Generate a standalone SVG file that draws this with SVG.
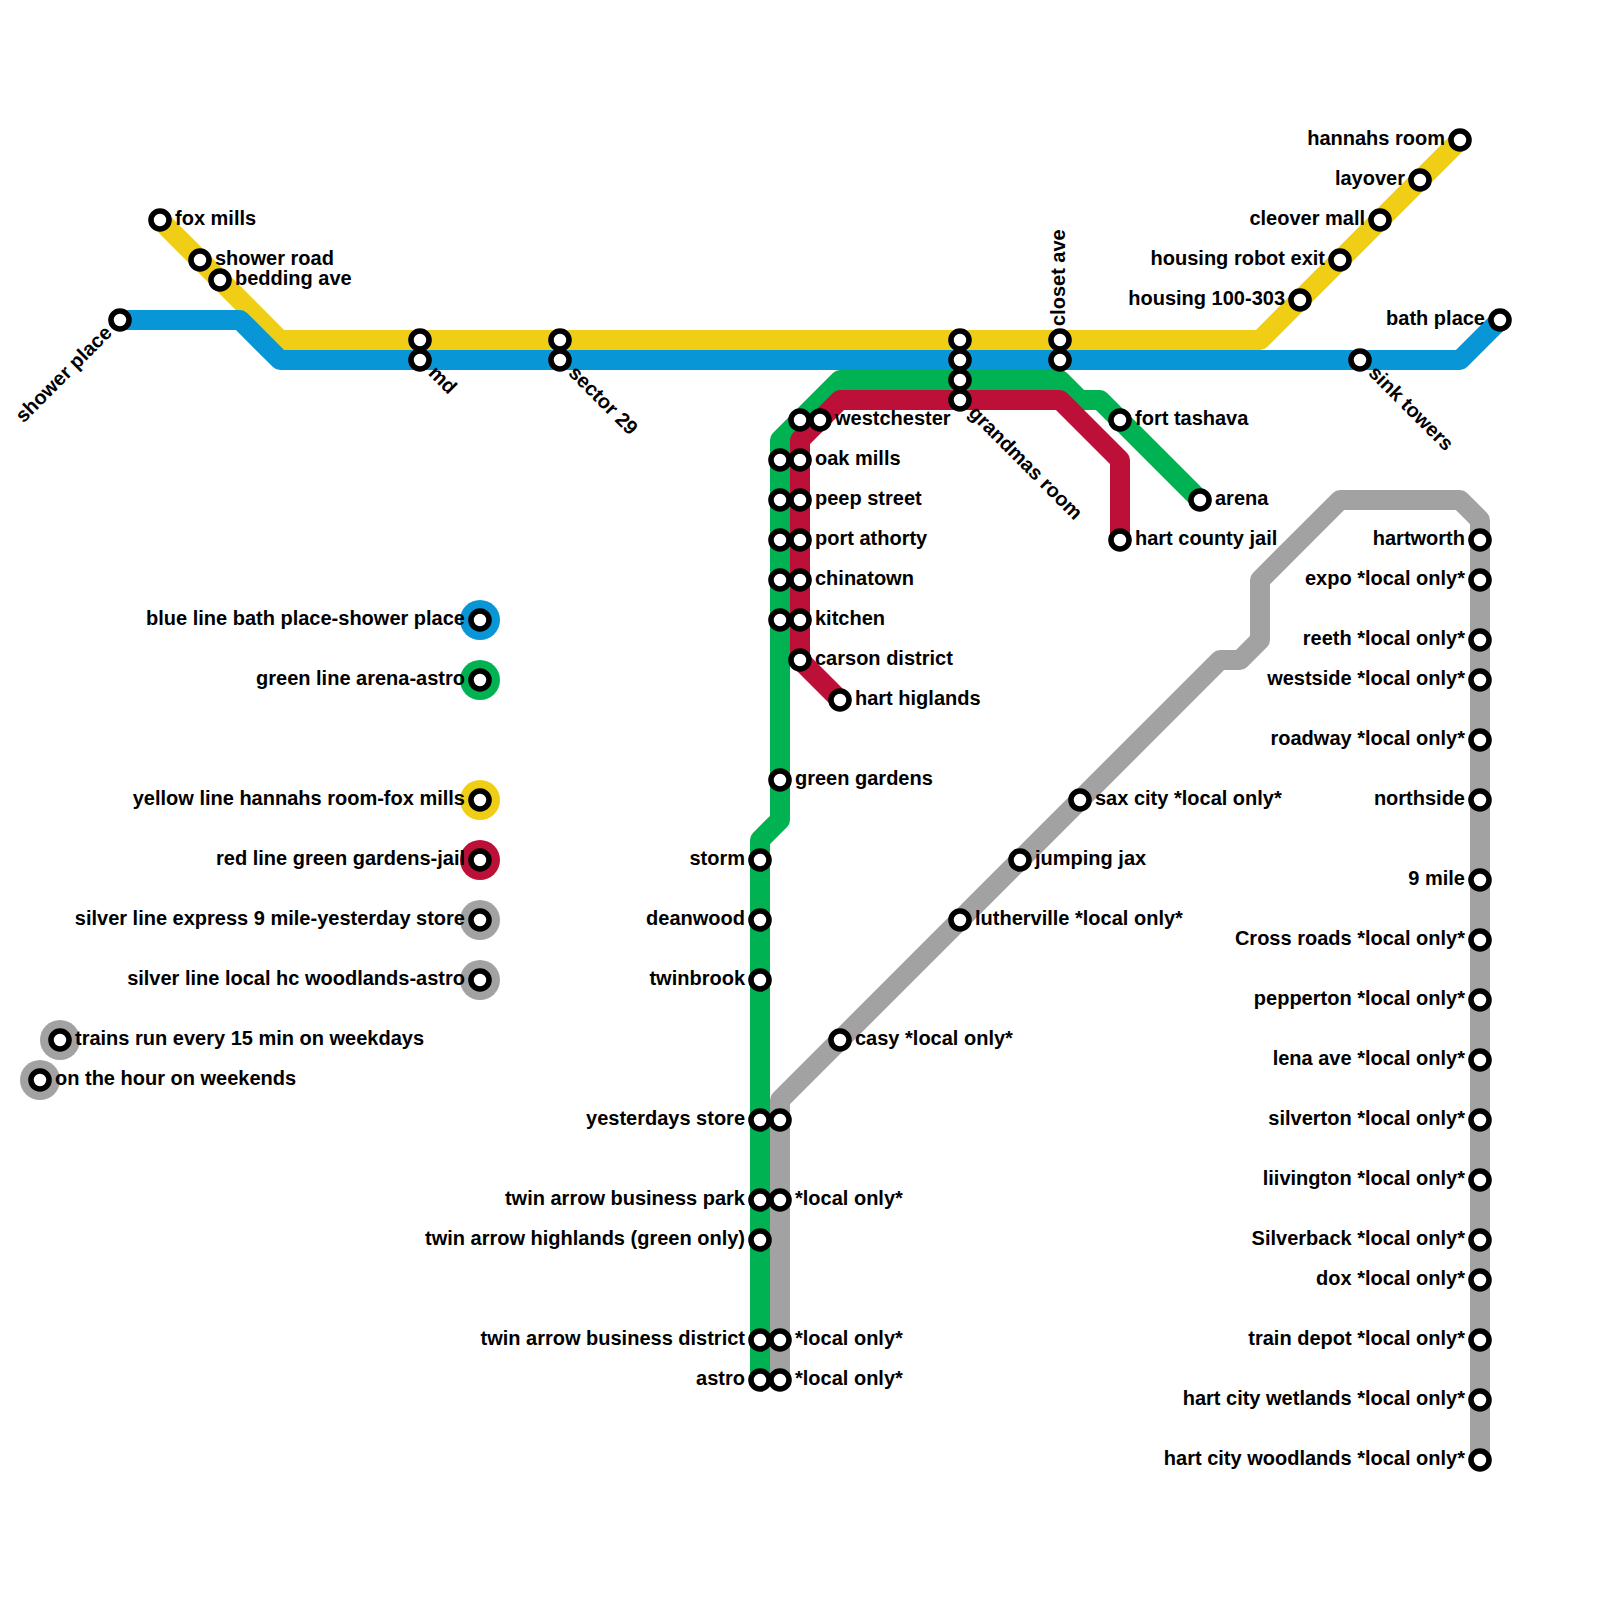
<svg xmlns="http://www.w3.org/2000/svg" width="1600" height="1600" viewBox="0 0 1600 1600">
<style>
.l{fill:none;stroke-width:20;stroke-linejoin:round}
.s{fill:#fff;stroke:#000;stroke-width:5.6}
text{font-family:"Liberation Sans",Arial,sans-serif;font-weight:bold;font-size:20px;fill:#000}
.e{text-anchor:end}
</style>
<rect width="1600" height="1600" fill="#fff"/>
<g id="connectors">
<path class="l" stroke="#f0ce15" d="M1460 140L1260 340H280L160 220"/>
<path class="l" stroke="#0896d7" d="M1500 320L1460 360H280L240 320H120"/>
<path class="l" stroke="#a2a2a2" d="M780 1380V1100L1220 660H1240L1260 640V580L1340 500H1460L1480 520V1460"/>
<path class="l" stroke="#00b251" d="M1200 500L1100 400H1080L1060 380H840L780 440V820L760 840V1380"/>
<path class="l" stroke="#bd1038" d="M1120 540V460L1060 400H840L800 440V660L840 700"/>
</g>
<g id="legend-blue"><circle cx="480" cy="620" r="20" fill="#0896d7"/><circle class="s" cx="480" cy="620" r="9"/><text class="e" x="465" y="625">blue line bath place-shower place</text></g>
<g id="legend-green"><circle cx="480" cy="680" r="20" fill="#00b251"/><circle class="s" cx="480" cy="680" r="9"/><text class="e" x="465" y="685">green line arena-astro</text></g>
<g id="legend-yellow"><circle cx="480" cy="800" r="20" fill="#f0ce15"/><circle class="s" cx="480" cy="800" r="9"/><text class="e" x="465" y="805">yellow line hannahs room-fox mills</text></g>
<g id="legend-red"><circle cx="480" cy="860" r="20" fill="#bd1038"/><circle class="s" cx="480" cy="860" r="9"/><text class="e" x="465" y="865">red line green gardens-jail</text></g>
<g id="legend-silver-express"><circle cx="480" cy="920" r="20" fill="#a2a2a2"/><circle class="s" cx="480" cy="920" r="9"/><text class="e" x="465" y="925">silver line express 9 mile-yesterday store</text></g>
<g id="legend-silver-local"><circle cx="480" cy="980" r="20" fill="#a2a2a2"/><circle class="s" cx="480" cy="980" r="9"/><text class="e" x="465" y="985">silver line local hc woodlands-astro</text></g>
<g id="note-weekdays"><circle cx="60" cy="1040" r="20" fill="#a2a2a2"/><circle class="s" cx="60" cy="1040" r="9"/><text x="75" y="1045">trains run every 15 min on weekdays</text></g>
<g id="note-weekends"><circle cx="40" cy="1080" r="20" fill="#a2a2a2"/><circle class="s" cx="40" cy="1080" r="9"/><text x="55" y="1085">on the hour on weekends</text></g>
<g id="fox-mills"><circle class="s" cx="160" cy="220" r="9"/><text x="175" y="225">fox mills</text></g>
<g id="shower-road"><circle class="s" cx="200" cy="260" r="9"/><text x="215" y="265">shower road</text></g>
<g id="bedding-ave"><circle class="s" cx="220" cy="280" r="9"/><text x="235" y="285">bedding ave</text></g>
<g id="shower-place"><circle class="s" cx="120" cy="320" r="9"/><text class="e" transform="translate(113 334) rotate(-45)">shower place</text></g>
<g id="md-y"><circle class="s" cx="420" cy="340" r="9"/></g>
<g id="md"><circle class="s" cx="420" cy="360" r="9"/><text transform="translate(427.5 374) rotate(45)">md</text></g>
<g id="sector-29-y"><circle class="s" cx="560" cy="340" r="9"/></g>
<g id="sector-29"><circle class="s" cx="560" cy="360" r="9"/><text transform="translate(567.5 374) rotate(45)">sector 29</text></g>
<g id="grandmas-y"><circle class="s" cx="960" cy="340" r="9"/></g>
<g id="grandmas-b"><circle class="s" cx="960" cy="360" r="9"/></g>
<g id="grandmas-g"><circle class="s" cx="960" cy="380" r="9"/></g>
<g id="grandmas-room"><circle class="s" cx="960" cy="400" r="9"/><text transform="translate(967.5 414) rotate(45)">grandmas room</text></g>
<g id="closet-ave"><circle class="s" cx="1060" cy="340" r="9"/><text transform="translate(1065 326) rotate(-90)">closet ave</text></g>
<g id="closet-ave-b"><circle class="s" cx="1060" cy="360" r="9"/></g>
<g id="sink-towers"><circle class="s" cx="1360" cy="360" r="9"/><text transform="translate(1367.5 374) rotate(45)">sink towers</text></g>
<g id="bath-place"><circle class="s" cx="1500" cy="320" r="9"/><text class="e" x="1485" y="325">bath place</text></g>
<g id="hannahs-room"><circle class="s" cx="1460" cy="140" r="9"/><text class="e" x="1445" y="145">hannahs room</text></g>
<g id="layover"><circle class="s" cx="1420" cy="180" r="9"/><text class="e" x="1405" y="185">layover</text></g>
<g id="cleover-mall"><circle class="s" cx="1380" cy="220" r="9"/><text class="e" x="1365" y="225">cleover mall</text></g>
<g id="housing-robot-exit"><circle class="s" cx="1340" cy="260" r="9"/><text class="e" x="1325" y="265">housing robot exit</text></g>
<g id="housing-100-303"><circle class="s" cx="1300" cy="300" r="9"/><text class="e" x="1285" y="305">housing 100-303</text></g>
<g id="fort-tashava"><circle class="s" cx="1120" cy="420" r="9"/><text x="1135" y="425">fort tashava</text></g>
<g id="arena"><circle class="s" cx="1200" cy="500" r="9"/><text x="1215" y="505">arena</text></g>
<g id="hart-county-jail"><circle class="s" cx="1120" cy="540" r="9"/><text x="1135" y="545">hart county jail</text></g>
<g id="g-420"><circle class="s" cx="800" cy="420" r="9"/></g>
<g id="westchester"><circle class="s" cx="820" cy="420" r="9"/><text x="835" y="425">westchester</text></g>
<g id="g-460"><circle class="s" cx="780" cy="460" r="9"/></g>
<g id="oak-mills"><circle class="s" cx="800" cy="460" r="9"/><text x="815" y="465">oak mills</text></g>
<g id="g-500"><circle class="s" cx="780" cy="500" r="9"/></g>
<g id="peep-street"><circle class="s" cx="800" cy="500" r="9"/><text x="815" y="505">peep street</text></g>
<g id="g-540"><circle class="s" cx="780" cy="540" r="9"/></g>
<g id="port-athorty"><circle class="s" cx="800" cy="540" r="9"/><text x="815" y="545">port athorty</text></g>
<g id="g-580"><circle class="s" cx="780" cy="580" r="9"/></g>
<g id="chinatown"><circle class="s" cx="800" cy="580" r="9"/><text x="815" y="585">chinatown</text></g>
<g id="g-620"><circle class="s" cx="780" cy="620" r="9"/></g>
<g id="kitchen"><circle class="s" cx="800" cy="620" r="9"/><text x="815" y="625">kitchen</text></g>
<g id="carson-district"><circle class="s" cx="800" cy="660" r="9"/><text x="815" y="665">carson district</text></g>
<g id="hart-higlands"><circle class="s" cx="840" cy="700" r="9"/><text x="855" y="705">hart higlands</text></g>
<g id="green-gardens"><circle class="s" cx="780" cy="780" r="9"/><text x="795" y="785">green gardens</text></g>
<g id="storm"><circle class="s" cx="760" cy="860" r="9"/><text class="e" x="745" y="865">storm</text></g>
<g id="deanwood"><circle class="s" cx="760" cy="920" r="9"/><text class="e" x="745" y="925">deanwood</text></g>
<g id="twinbrook"><circle class="s" cx="760" cy="980" r="9"/><text class="e" x="745" y="985">twinbrook</text></g>
<g id="yesterdays-store"><circle class="s" cx="760" cy="1120" r="9"/><text class="e" x="745" y="1125">yesterdays store</text></g>
<g id="yesterdays-store-s"><circle class="s" cx="780" cy="1120" r="9"/></g>
<g id="twin-arrow-business-park"><circle class="s" cx="760" cy="1200" r="9"/><text class="e" x="745" y="1205">twin arrow business park</text></g>
<g id="twin-arrow-business-park-s"><circle class="s" cx="780" cy="1200" r="9"/><text x="795" y="1205">*local only*</text></g>
<g id="twin-arrow-highlands"><circle class="s" cx="760" cy="1240" r="9"/><text class="e" x="745" y="1245">twin arrow highlands (green only)</text></g>
<g id="twin-arrow-business-district"><circle class="s" cx="760" cy="1340" r="9"/><text class="e" x="745" y="1345">twin arrow business district</text></g>
<g id="twin-arrow-business-district-s"><circle class="s" cx="780" cy="1340" r="9"/><text x="795" y="1345">*local only*</text></g>
<g id="astro"><circle class="s" cx="760" cy="1380" r="9"/><text class="e" x="745" y="1385">astro</text></g>
<g id="astro-s"><circle class="s" cx="780" cy="1380" r="9"/><text x="795" y="1385">*local only*</text></g>
<g id="casy"><circle class="s" cx="840" cy="1040" r="9"/><text x="855" y="1045">casy *local only*</text></g>
<g id="lutherville"><circle class="s" cx="960" cy="920" r="9"/><text x="975" y="925">lutherville *local only*</text></g>
<g id="jumping-jax"><circle class="s" cx="1020" cy="860" r="9"/><text x="1035" y="865">jumping jax</text></g>
<g id="sax-city"><circle class="s" cx="1080" cy="800" r="9"/><text x="1095" y="805">sax city *local only*</text></g>
<g id="hartworth"><circle class="s" cx="1480" cy="540" r="9"/><text class="e" x="1465" y="545">hartworth</text></g>
<g id="expo"><circle class="s" cx="1480" cy="580" r="9"/><text class="e" x="1465" y="585">expo *local only*</text></g>
<g id="reeth"><circle class="s" cx="1480" cy="640" r="9"/><text class="e" x="1465" y="645">reeth *local only*</text></g>
<g id="westside"><circle class="s" cx="1480" cy="680" r="9"/><text class="e" x="1465" y="685">westside *local only*</text></g>
<g id="roadway"><circle class="s" cx="1480" cy="740" r="9"/><text class="e" x="1465" y="745">roadway *local only*</text></g>
<g id="northside"><circle class="s" cx="1480" cy="800" r="9"/><text class="e" x="1465" y="805">northside</text></g>
<g id="nine-mile"><circle class="s" cx="1480" cy="880" r="9"/><text class="e" x="1465" y="885">9 mile</text></g>
<g id="cross-roads"><circle class="s" cx="1480" cy="940" r="9"/><text class="e" x="1465" y="945">Cross roads *local only*</text></g>
<g id="pepperton"><circle class="s" cx="1480" cy="1000" r="9"/><text class="e" x="1465" y="1005">pepperton *local only*</text></g>
<g id="lena-ave"><circle class="s" cx="1480" cy="1060" r="9"/><text class="e" x="1465" y="1065">lena ave *local only*</text></g>
<g id="silverton"><circle class="s" cx="1480" cy="1120" r="9"/><text class="e" x="1465" y="1125">silverton *local only*</text></g>
<g id="liivington"><circle class="s" cx="1480" cy="1180" r="9"/><text class="e" x="1465" y="1185">liivington *local only*</text></g>
<g id="silverback"><circle class="s" cx="1480" cy="1240" r="9"/><text class="e" x="1465" y="1245">Silverback *local only*</text></g>
<g id="dox"><circle class="s" cx="1480" cy="1280" r="9"/><text class="e" x="1465" y="1285">dox *local only*</text></g>
<g id="train-depot"><circle class="s" cx="1480" cy="1340" r="9"/><text class="e" x="1465" y="1345">train depot *local only*</text></g>
<g id="hart-city-wetlands"><circle class="s" cx="1480" cy="1400" r="9"/><text class="e" x="1465" y="1405">hart city wetlands *local only*</text></g>
<g id="hart-city-woodlands"><circle class="s" cx="1480" cy="1460" r="9"/><text class="e" x="1465" y="1465">hart city woodlands *local only*</text></g>
</svg>
